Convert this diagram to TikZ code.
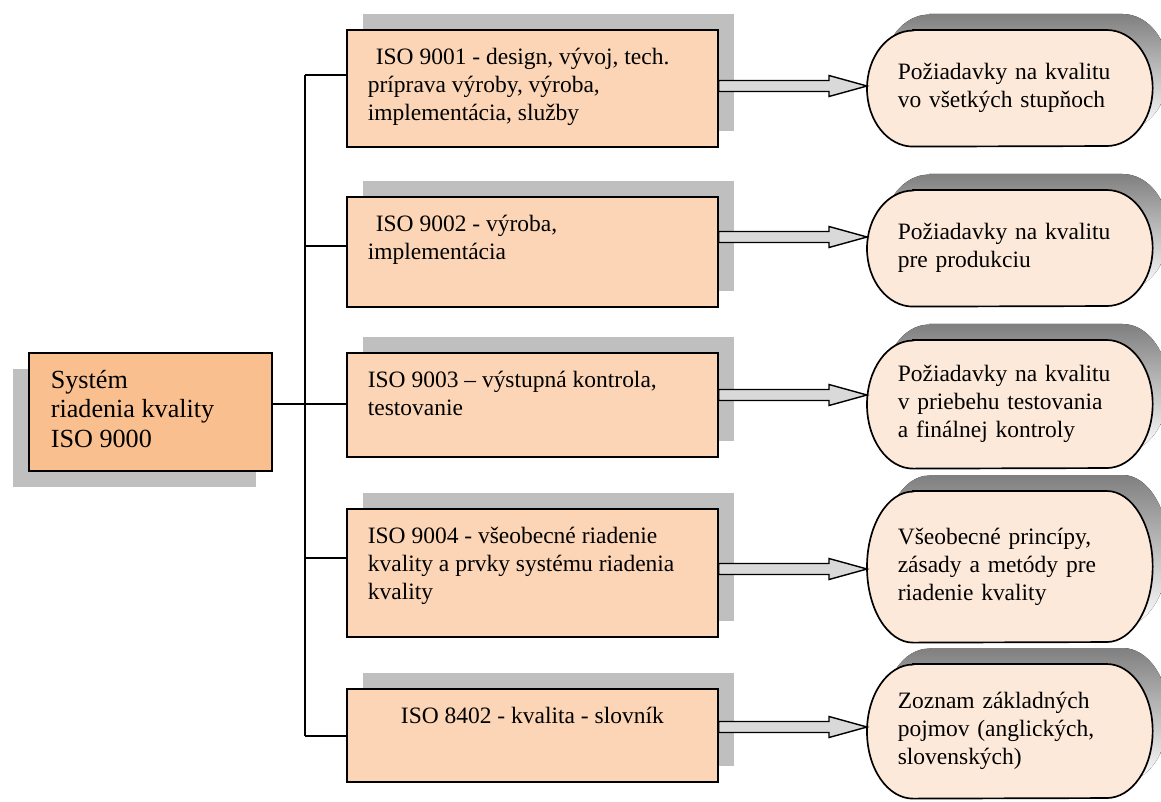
\documentclass[tikz,border=0pt]{standalone}
\usepackage{fontspec}
\setmainfont{Liberation Serif}
\usetikzlibrary{calc,shadows,backgrounds}
\definecolor{sysfill}{HTML}{F9BF8F}
\definecolor{isofill}{HTML}{FBD5B5}
\definecolor{reqfill}{HTML}{FDE9D9}
\definecolor{shade}{HTML}{BFBFBF}
\definecolor{shaft}{HTML}{D9D9D9}
\newcommand{\reqpath}[2]{($(#1.north west)+(46,0)$) -- ($(#1.north east)+(-46,0)$)
  arc[start angle=90, end angle=-90, x radius=1.15cm, y radius=#2]
  -- ($(#1.south west)+(46,0)$)
  arc[start angle=270, end angle=90, x radius=1.15cm, y radius=#2] -- cycle}
\newcommand{\reqshape}[2]{%
  \begin{scope}[on background layer]
    \fill[shade, transform canvas={xshift=0.4cm, yshift=0.4cm}] \reqpath{#1}{#2};
    \draw[reqline] \reqpath{#1}{#2};
  \end{scope}}
\newcommand{\blockarrow}[3]{%
  \draw[arrowbody] ($(#1.east |- 0,#3)+(0,-5.5)$) -- ($(#2.west |- 0,#3)+(-38,-5.5)$)
    -- ++(0,-5) -- (#2.west |- 0,#3) -- ++(-38,10.5) -- ++(0,-5)
    -- ($(#1.east |- 0,#3)+(0,5.5)$) -- cycle;}

\begin{document}
\begin{tikzpicture}[x=0.025cm, y=-0.025cm,
    link/.style={draw=black, line width=1pt},
    sysbox/.style={draw=black, line width=1.2pt, fill=sysfill, anchor=north west,
      inner xsep=0.55cm, inner ysep=0.425cm,
      drop shadow={shadow xshift=-0.4cm, shadow yshift=-0.4cm, fill=shade, opacity=1},
      execute at begin node={\begin{minipage}[c][2.1cm][t]{4.975cm}\fontsize{18.6}{21.3}\selectfont\raggedright},
      execute at end node={\end{minipage}}},
    isobox/.style={draw=black, line width=1.2pt, fill=isofill, anchor=north west,
      inner xsep=0.525cm, inner ysep=0.45cm,
      drop shadow={shadow xshift=0.4cm, shadow yshift=0.4cm, fill=shade, opacity=1},
      execute at begin node={\begin{minipage}[c][#1][t]{8.225cm}\fontsize{16.7}{19.9}\selectfont\raggedright},
      execute at end node={\end{minipage}}},
    reqnode/.style={anchor=north west, minimum width=7.125cm, minimum height=#1,
      text width=5.6cm, align=left, inner sep=0pt,
      font=\fontsize{16.7}{19.9}\selectfont},
    reqline/.style={draw=black, line width=1.2pt, fill=reqfill},
    arrowbody/.style={draw=black, line width=1pt, fill=shaft, line join=miter}]
  \useasboundingbox (0,0) rectangle (1161,801);

  \node[sysbox] (sys) at (28,352) {Systém\\ riadenia kvality\\ ISO 9000};

  \node[isobox=2.025cm] (b1) at (346,29)
    {\hspace{0.2cm}ISO 9001 - design, vývoj, tech.\\ príprava výroby, výroba,\\ implementácia, služby};
  \node[isobox=1.85cm] (b2) at (346,196)
    {\hspace{0.2cm}ISO 9002 - výroba,\\ implementácia};
  \node[isobox=1.7cm] (b3) at (346,352)
    {ISO 9003 -- výstupná kontrola,\\ testovanie};
  \node[isobox=2.3cm] (b4) at (346,508)
    {ISO 9004 - všeobecné riadenie\\ kvality a prvky systému riadenia\\ kvality};
  \node[isobox=1.425cm] (b5) at (346,688)
    {\makebox[\linewidth][c]{ISO 8402 - kvalita - slovník}};

  \node[reqnode=2.9cm] (r1) at (867,30) {Požiadavky na kvalitu\\ vo všetkých stupňoch};
  \node[reqnode=2.9cm] (r2) at (867,190) {Požiadavky na kvalitu\\ pre produkciu};
  \node[reqnode=3.2cm] (r3) at (867,340) {Požiadavky na kvalitu\\ v priebehu testovania\\ a finálnej kontroly};
  \node[reqnode=3.775cm] (r4) at (867,491) {Všeobecné princípy,\\ zásady a metódy pre\\ riadenie kvality};
  \node[reqnode=3.35cm] (r5) at (867,664) {Zoznam základných\\ pojmov (anglických,\\ slovenských)};
  \reqshape{r1}{1.45cm}
  \reqshape{r2}{1.45cm}
  \reqshape{r3}{1.6cm}
  \reqshape{r4}{1.8875cm}
  \reqshape{r5}{1.675cm}

  \coordinate (j1) at (305,75);
  \coordinate (j2) at (305,246);
  \coordinate (j3) at (305,404);
  \coordinate (j4) at (305,558);
  \coordinate (j5) at (305,736);
  \draw[link] (j1) -- (j5);
  \draw[link] (sys.east |- j3) -- (j3);
  \draw[link] (j1) -- (j1 -| b1.west);
  \draw[link] (j2) -- (j2 -| b2.west);
  \draw[link] (j3) -- (j3 -| b3.west);
  \draw[link] (j4) -- (j4 -| b4.west);
  \draw[link] (j5) -- (j5 -| b5.west);

  \blockarrow{b1}{r1}{86}
  \blockarrow{b2}{r2}{237}
  \blockarrow{b3}{r3}{395}
  \blockarrow{b4}{r4}{569}
  \blockarrow{b5}{r5}{727}
\end{tikzpicture}
\end{document}
